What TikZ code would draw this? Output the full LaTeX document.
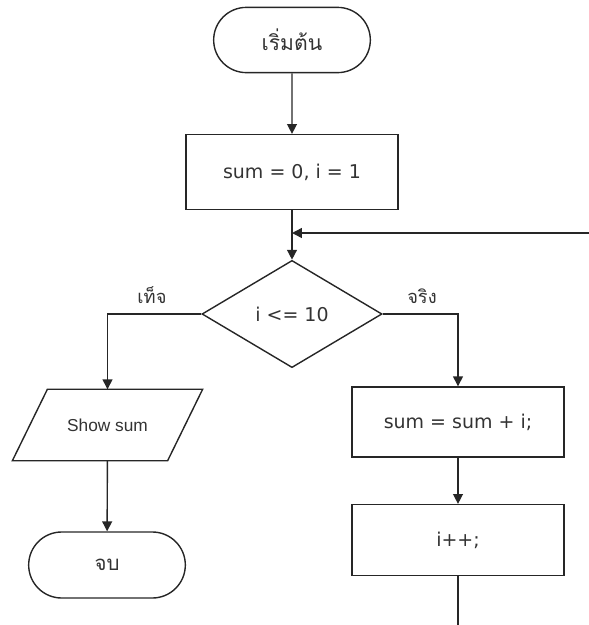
\documentclass[tikz,border=0pt]{standalone}
\usepackage{fontspec}
\setmainfont{DejaVu Sans}
\newfontfamily\thaifont[Script=Thai]{Loma}
\newfontfamily\labelfont{Liberation Sans}
\usetikzlibrary{arrows.meta,shapes.geometric,shapes.misc,calc}

\tikzset{
  terminal/.style={draw, rounded rectangle, minimum width=4.15cm, minimum height=1.63cm, font=\thaifont\fontsize{15}{18}\selectfont},
  process/.style={draw, rectangle, minimum width=5.3cm, minimum height=1.8cm, font=\fontsize{13.5}{16}\selectfont},
  decision/.style={draw, diamond, inner sep=0pt, minimum width=4.5cm, minimum height=2.68cm, font=\fontsize{13.5}{16}\selectfont},
  io/.style={rectangle, minimum width=4.72cm, minimum height=1.75cm, font=\labelfont\fontsize{12.3}{14}\selectfont},
  branch/.style={font=\thaifont\fontsize{13}{15}\selectfont, text=black!80},
  connector/.style={-{Triangle[length=7pt,width=7pt]}},
}

\begin{document}
\begin{tikzpicture}[x=0.025cm, y=-0.025cm, line width=1pt, draw=black!85, text=black!80]

    %frame
    \useasboundingbox (0,0) rectangle (589,625);

    %nodes
    \node[terminal] (start) at (292,40) {เริ่มต้น};
    \node[process, minimum height=1.87cm] (init) at (292,172) {sum = 0, i = 1};
    \coordinate (merge) at (292,233);
    \node[decision] (cond) at (292,314) {i <= 10};
    \node[io] (show) at (107.5,425) {Show sum};
    \node[terminal, minimum height=1.65cm, font=\thaifont\fontsize{14.5}{17}\selectfont] (stop) at (107,565) {จบ};
    \node[process, minimum height=1.75cm] (body) at (458,422) {sum = sum + i;};
    \node[process, minimum height=1.77cm] (incr) at (458,540) {i++;};

    %parallelogram round the output node
    \draw ($(show.north west)+(35,0)$) -- (show.north east) -- ($(show.south east)+(-35,0)$) -- (show.south west) -- cycle;

    %loop ends
    \coordinate (loopout) at (458,625);
    \coordinate (loopin) at (589,233);

    %connectors
    \draw[connector] (start) -- (init);
    \draw[connector] (init) -- (cond);
    \draw[connector] (cond.west) -| (show.north);
    \draw[connector] (show) -- (stop);
    \draw[connector] (cond.east) -| (body.north);
    \draw[connector] (body) -- (incr);
    \draw (incr.south) -- (loopout);
    \draw[connector] (loopin) -- (merge);

    %branch labels
    \node[branch, anchor=south] (no) at (152,309) {เท็จ};
    \node[branch, anchor=south] (yes) at (422,309) {จริง};

\end{tikzpicture}
\end{document}
